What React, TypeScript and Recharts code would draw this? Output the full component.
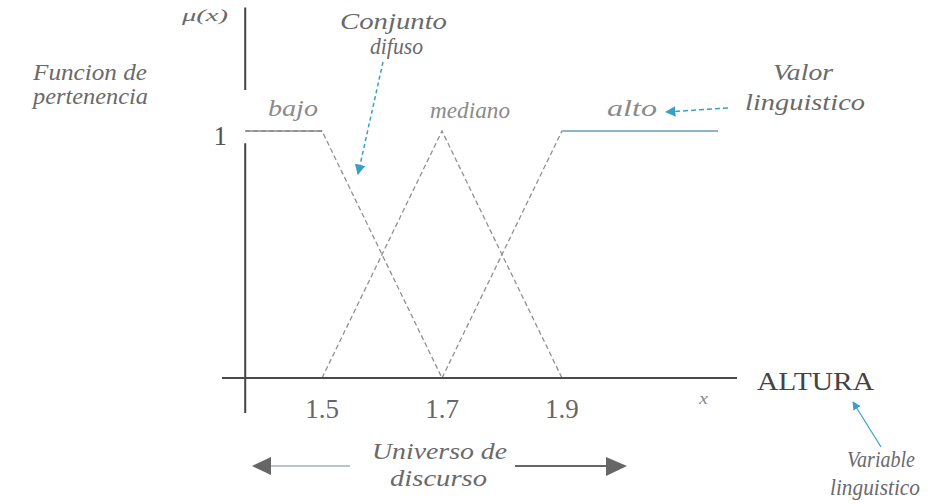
import { LineChart, Line, XAxis, YAxis, ReferenceLine } from 'recharts';

// puntos de quiebre de las funciones de pertenencia (altura en m)
const alturas = [1.372, 1.5, 1.7, 1.9, 2.16];
const bajo = [1, 1, 0, null, null];
const mediano = [null, 0, 1, 0, null];
const alto = [null, null, 0, 1, 1];
// tramos planos (grado 1), dibujados en trazo continuo
const bajoMeseta = [1, 1, null, null, null];
const altoMeseta = [null, null, null, 1, 1];

const xTicks = [1.5, 1.7, 1.9];
const yTicks = [1];

const serif = '"Liberation Serif", "DejaVu Serif", serif';
const textGray = '#6a6a6a';
const blue = '#3a9fc6';

const data = alturas.map((x, i) => ({
  x,
  bajo: bajo[i],
  mediano: mediano[i],
  alto: alto[i],
  bajoMeseta: bajoMeseta[i],
  altoMeseta: altoMeseta[i],
}));

function Label({ x, y, w, text, size = 23, italic = true, color = textGray }: any) {
  return (
    <text
      x={x}
      y={y}
      textLength={w}
      lengthAdjust="spacingAndGlyphs"
      fontFamily={serif}
      fontStyle={italic ? 'italic' : 'normal'}
      fontSize={size}
      fill={color}
    >
      {text}
    </text>
  );
}

export default function App() {
  return (
    <div style={{ position: 'absolute', left: 0, top: 0, width: 930, height: 504, background: '#fff' }}>
      <LineChart
        width={930}
        height={504}
        data={data}
        margin={{ top: 7.5, right: 193, bottom: 86, left: 182 }}
      >
        <XAxis
          dataKey="x"
          type="number"
          domain={[1.3333, 2.1917]}
          allowDataOverflow
          ticks={xTicks}
          tickLine={false}
          tickMargin={15}
          height={40}
          axisLine={{ stroke: '#4a4a4a', strokeWidth: 2 }}
          tick={{ fill: '#666', fontSize: 27, fontFamily: serif }}
        />
        <YAxis
          type="number"
          domain={[0, 1.5]}
          allowDataOverflow
          ticks={yTicks}
          width={40}
          axisLine={false}
          tickLine={false}
          tickMargin={-11}
          tick={{ fill: '#555', fontSize: 27, fontFamily: serif, dy: 4 }}
        />
        <ReferenceLine
          segment={[{ x: 1.372, y: 1.5 }, { x: 1.372, y: 1.166 }]}
          stroke="#444"
          strokeWidth={2}
          ifOverflow="visible"
        />
        <ReferenceLine
          segment={[{ x: 1.372, y: 0.95 }, { x: 1.372, y: -0.142 }]}
          stroke="#444"
          strokeWidth={2}
          ifOverflow="visible"
        />
        <Line type="linear" dataKey="bajo" stroke="#909090" strokeWidth={1.3} strokeDasharray="5 3" dot={false} isAnimationActive={false} />
        <Line type="linear" dataKey="mediano" stroke="#909090" strokeWidth={1.3} strokeDasharray="5 3" dot={false} isAnimationActive={false} />
        <Line type="linear" dataKey="alto" stroke="#909090" strokeWidth={1.3} strokeDasharray="5 3" dot={false} isAnimationActive={false} />
        <Line type="linear" dataKey="bajoMeseta" stroke="#8a8a8a" strokeWidth={1.5} dot={false} isAnimationActive={false} />
        <Line type="linear" dataKey="altoMeseta" stroke="#8fb5c6" strokeWidth={2} dot={false} isAnimationActive={false} />
      </LineChart>

      <svg
        width={930}
        height={504}
        style={{ position: 'absolute', left: 0, top: 0, pointerEvents: 'none' }}
      >
        <defs>
          <marker id="punta" viewBox="0 0 10 10" refX="9" refY="5" markerWidth="7" markerHeight="7" orient="auto">
            <path d="M0,0 L10,5 L0,10 z" fill={blue} />
          </marker>
        </defs>

        <Label x={182} y={21} w={46} text="μ(x)" size={17} />
        <Label x={33} y={80} w={114} text="Funcion de" />
        <Label x={33} y={104} w={115} text="pertenencia" />
        <Label x={340} y={29} w={107} text="Conjunto" />
        <Label x={370} y={54} w={53} text="difuso" size={24} />
        <Label x={268} y={116} w={50} text="bajo" color="#8a8a8a" />
        <Label x={430} y={118} w={80} text="mediano" color="#8a8a8a" />
        <Label x={607} y={116} w={50} text="alto" color="#8a8a8a" />
        <Label x={773} y={80} w={60} text="Valor" />
        <Label x={745} y={110} w={120} text="linguistico" />
        <Label x={757} y={390} w={117} text="ALTURA" size={26} italic={false} color="#444" />
        <Label x={699} y={404} w={9} text="x" size={16} color="#888" />
        <Label x={372} y={459} w={135} text="Universo de" />
        <Label x={390} y={486} w={97} text="discurso" />
        <Label x={847} y={467} w={68} text="Variable" size={24} />
        <Label x={830} y={495} w={90} text="linguistico" size={24} />

        <line x1={383} y1={62} x2={358} y2={174} stroke={blue} strokeWidth={1.5} strokeDasharray="4 3" markerEnd="url(#punta)" />
        <line x1={728} y1={108} x2={666} y2={112} stroke={blue} strokeWidth={1.5} strokeDasharray="5 3" markerEnd="url(#punta)" />
        <line x1={881} y1={447} x2={853} y2={402} stroke={blue} strokeWidth={1.2} markerEnd="url(#punta)" />

        <line x1={350} y1={466} x2={266} y2={466} stroke="#b5c8d0" strokeWidth={2} />
        <polygon points="252,466 271,457 271,475" fill="#666" />
        <line x1={515} y1={466} x2={610} y2={466} stroke="#666" strokeWidth={2} />
        <polygon points="627,466 606,457 606,476" fill="#666" />
      </svg>
    </div>
  );
}
